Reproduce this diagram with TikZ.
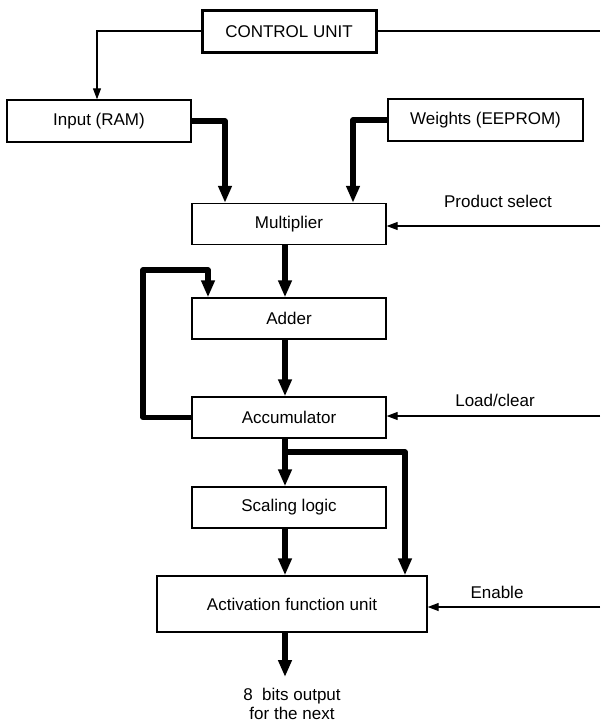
\documentclass[tikz,border=0pt]{standalone}
\usepackage{fontspec}
\setmainfont{Liberation Sans}
\usetikzlibrary{arrows.meta}
\begin{document}
\begin{tikzpicture}[x=1pt,y=-1pt,
  every node/.style={font=\fontsize{17}{19}\selectfont},
  blk/.style={draw, line width=1.4pt, rectangle, inner sep=0pt, minimum height=41pt, minimum width=194pt},
  bus/.style={line width=5.2pt, line join=round, -{Triangle[length=17pt,width=13pt]}},
  sig/.style={line width=1.2pt, -{Triangle[length=11pt,width=8pt]}},
  wire/.style={line width=1.2pt},
  lbl/.style={inner sep=0pt, align=center}]
\useasboundingbox (0,0) rectangle (600,722);

% blocks
\node[blk, line width=3pt, minimum width=174pt, minimum height=42pt] (cu) at (289,32) {CONTROL UNIT};
\node[blk, minimum width=184pt, minimum height=42pt] (ram) at (99,121) {Input (RAM)};
\node[blk, minimum width=195pt, minimum height=42pt] (wts) at (485.5,120) {Weights (EEPROM)};
\node[blk] (mul) at (289,224) {Multiplier};
\node[blk] (add) at (289,318.5) {Adder};
\node[blk] (acc) at (289,417.5) {Accumulator};
\node[blk] (scl) at (289,507.5) {Scaling logic};
\node[blk, minimum width=270pt, minimum height=56pt] (act) at (292,604) {Activation function unit};

% labels
\node[lbl] (lps) at (498,201) {Product select};
\node[lbl] (llc) at (495,400) {Load/clear};
\node[lbl] (len) at (497,592) {Enable};
\node[lbl, anchor=north] (outtxt) at (292,688) {8\ \ bits output\\for the next};

% reference coordinates
\coordinate (spine) at (285,0);
\coordinate (cuR) at (600,31);
\coordinate (psR) at (600,226);
\coordinate (lcR) at (600,416);
\coordinate (enR) at (600,607);
\coordinate (loopc) at (143,270);
\coordinate (tap) at (285,452);
\coordinate (outEnd) at (285,677);

% control lines
\draw[wire] (cu.east |- cuR) -- (cuR);
\draw[sig] (cu.west |- cuR) -| ([xshift=-2pt]ram.north);
\draw[sig] (psR) -- (mul.east |- psR);
\draw[sig] (lcR) -- (acc.east |- lcR);
\draw[sig] (enR) -- (act.east |- enR);

% data buses
\draw[bus] (ram.east) -| ([xshift=-64pt]mul.north);
\draw[bus] (wts.west) -| ([xshift=64pt]mul.north);
\draw[bus] (mul.south -| spine) -- (add.north -| spine);
\draw[bus] (add.south -| spine) -- (acc.north -| spine);
\draw[bus] (acc.west) -| (loopc) -| ([xshift=-81pt]add.north);
\draw[bus] (acc.south -| spine) -- (scl.north -| spine);
\draw[bus] (tap) -| ([xshift=113pt]act.north);
\draw[bus] (scl.south -| spine) -- (act.north -| spine);
\draw[bus] (act.south -| spine) -- (outEnd);
\end{tikzpicture}
\end{document}
